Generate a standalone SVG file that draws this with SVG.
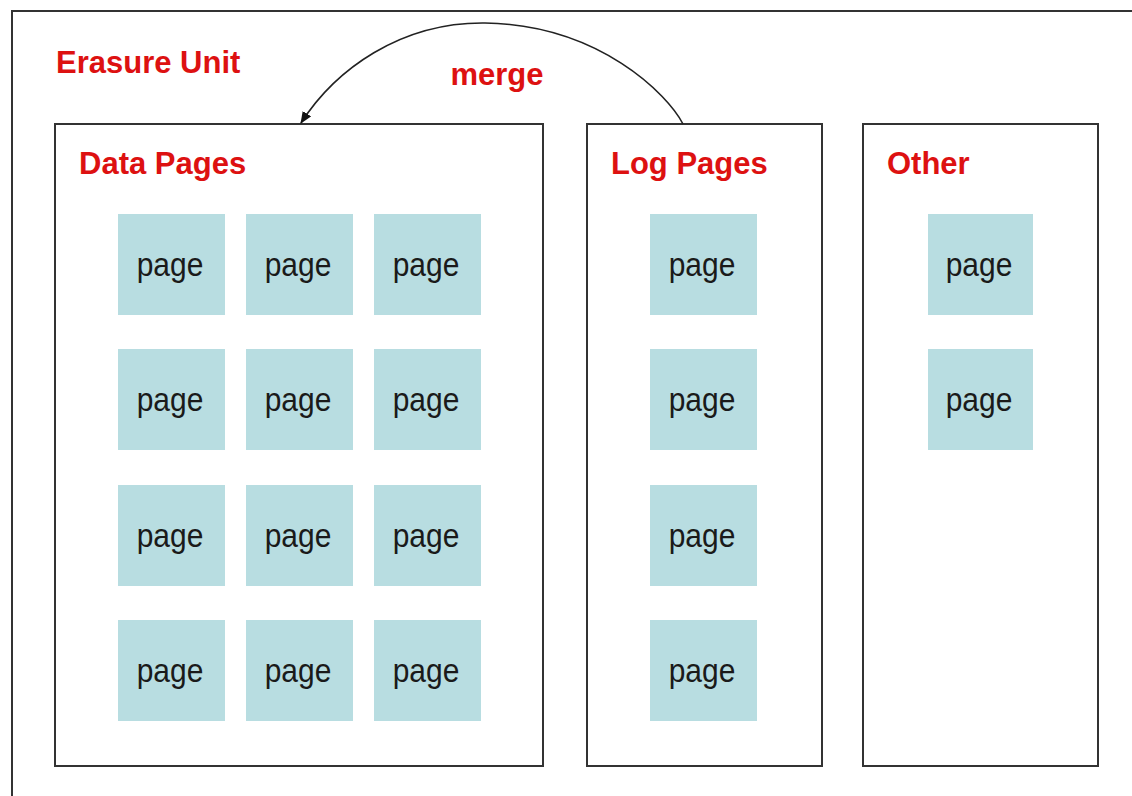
<svg xmlns="http://www.w3.org/2000/svg" width="1132" height="796" viewBox="0 0 1132 796">
<style>
.box{fill:#fff;stroke:#333;stroke-width:2}
.pg{fill:#b8dde1}
.pt{font-family:"Liberation Sans",Arial,sans-serif;font-size:30px;fill:#1a1a1a;text-anchor:middle}
.ttl{font-family:"Liberation Sans",Arial,sans-serif;font-size:31px;font-weight:bold;fill:#dd1111}
.conn{fill:none;stroke:#222;stroke-width:1.6}
</style>
<defs>
<marker id="ah" markerWidth="12" markerHeight="10" refX="11" refY="5" orient="auto" markerUnits="userSpaceOnUse">
<path d="M0,0 L12,5 L0,10 z" fill="#111"/>
</marker>
</defs>
<rect width="1132" height="796" fill="#fff"/>
<g id="erasure-unit">
<rect x="12" y="11" width="1140" height="810" class="box"/>
<text class="ttl" x="56" y="73" font-size="31.5">Erasure Unit</text>
</g>
<g id="data-pages">
<rect x="55" y="124" width="488" height="642" class="box"/>
<text class="ttl" x="79" y="174">Data Pages</text>
</g>
<g id="log-pages">
<rect x="587" y="124" width="235" height="642" class="box"/>
<text class="ttl" x="611" y="174">Log Pages</text>
</g>
<g id="other">
<rect x="863" y="124" width="235" height="642" class="box"/>
<text class="ttl" x="887" y="174">Other</text>
</g>
<g id="data-page-cells">
<g id="d11"><rect class="pg" x="118" y="214" width="107" height="101"/><text class="pt" transform="translate(170,276) scale(1,1.12)">page</text></g>
<g id="d12"><rect class="pg" x="246" y="214" width="107" height="101"/><text class="pt" transform="translate(298,276) scale(1,1.12)">page</text></g>
<g id="d13"><rect class="pg" x="374" y="214" width="107" height="101"/><text class="pt" transform="translate(426,276) scale(1,1.12)">page</text></g>
<g id="d21"><rect class="pg" x="118" y="349" width="107" height="101"/><text class="pt" transform="translate(170,411) scale(1,1.12)">page</text></g>
<g id="d22"><rect class="pg" x="246" y="349" width="107" height="101"/><text class="pt" transform="translate(298,411) scale(1,1.12)">page</text></g>
<g id="d23"><rect class="pg" x="374" y="349" width="107" height="101"/><text class="pt" transform="translate(426,411) scale(1,1.12)">page</text></g>
<g id="d31"><rect class="pg" x="118" y="485" width="107" height="101"/><text class="pt" transform="translate(170,547) scale(1,1.12)">page</text></g>
<g id="d32"><rect class="pg" x="246" y="485" width="107" height="101"/><text class="pt" transform="translate(298,547) scale(1,1.12)">page</text></g>
<g id="d33"><rect class="pg" x="374" y="485" width="107" height="101"/><text class="pt" transform="translate(426,547) scale(1,1.12)">page</text></g>
<g id="d41"><rect class="pg" x="118" y="620" width="107" height="101"/><text class="pt" transform="translate(170,682) scale(1,1.12)">page</text></g>
<g id="d42"><rect class="pg" x="246" y="620" width="107" height="101"/><text class="pt" transform="translate(298,682) scale(1,1.12)">page</text></g>
<g id="d43"><rect class="pg" x="374" y="620" width="107" height="101"/><text class="pt" transform="translate(426,682) scale(1,1.12)">page</text></g>
</g>
<g id="log-page-cells">
<g id="l1"><rect class="pg" x="650" y="214" width="107" height="101"/><text class="pt" transform="translate(702,276) scale(1,1.12)">page</text></g>
<g id="l2"><rect class="pg" x="650" y="349" width="107" height="101"/><text class="pt" transform="translate(702,411) scale(1,1.12)">page</text></g>
<g id="l3"><rect class="pg" x="650" y="485" width="107" height="101"/><text class="pt" transform="translate(702,547) scale(1,1.12)">page</text></g>
<g id="l4"><rect class="pg" x="650" y="620" width="107" height="101"/><text class="pt" transform="translate(702,682) scale(1,1.12)">page</text></g>
</g>
<g id="other-page-cells">
<g id="o1"><rect class="pg" x="928" y="214" width="105" height="101"/><text class="pt" transform="translate(979,276) scale(1,1.12)">page</text></g>
<g id="o2"><rect class="pg" x="928" y="349" width="105" height="101"/><text class="pt" transform="translate(979,411) scale(1,1.12)">page</text></g>
</g>
<g id="connectors">
<path class="conn" d="M683,124 C668,95 600,25 485,23 C400,22 335,70 301,123" marker-end="url(#ah)"/>
<text class="ttl" x="497" y="85" font-size="30" text-anchor="middle">merge</text>
</g>
</svg>
